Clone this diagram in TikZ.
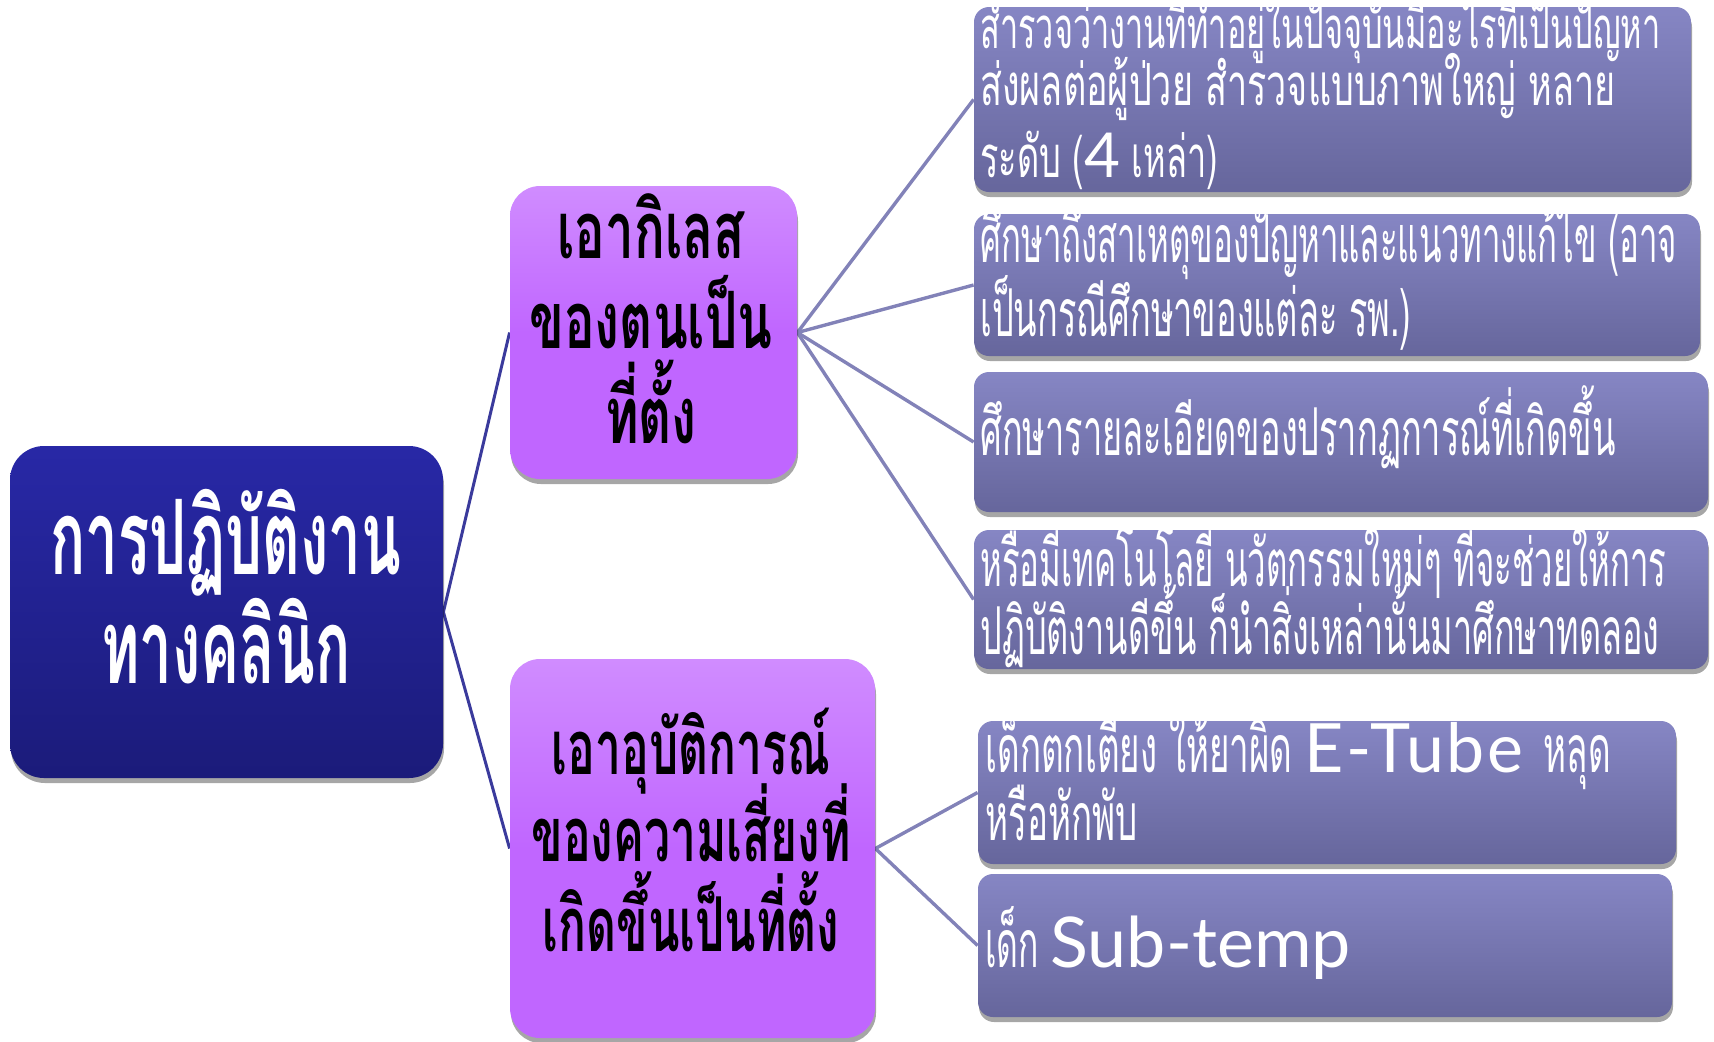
\documentclass[tikz,border=0pt]{standalone}
\usepackage{fontspec}
\usepackage{graphicx}
\setmainfont{Loma}[Script=Thai]
\newfontfamily\thaiR{Loma}[Script=Thai]
\newfontfamily\latin{Lato}
\usetikzlibrary{shadows,backgrounds}
\definecolor{rootTop}{HTML}{2828A6}
\definecolor{rootBot}{HTML}{1B1B7A}
\definecolor{midFill}{HTML}{C066FF}
\definecolor{midTop}{HTML}{D08CFF}
\definecolor{rTop}{HTML}{8686C4}
\definecolor{rBot}{HTML}{66669C}
\definecolor{rootLine}{HTML}{3A3A9C}
\definecolor{midLine}{HTML}{8282B8}
\newcommand{\sqz}[2]{\scalebox{#1}[1]{#2}}
\newcommand{\sqzv}[3]{\scalebox{#1}[#2]{#3}}
\tikzset{
  boxshadow/.style={drop shadow={shadow xshift=0.5pt, shadow yshift=-2.5pt, opacity=0.35, fill=black}},
  rootbox/.style={rounded corners=17pt, top color=rootTop, bottom color=rootBot, boxshadow, inner sep=0pt},
  midbox/.style={rounded corners=15pt, top color=midTop, bottom color=midFill, middle color=midFill, boxshadow, inner sep=0pt},
  rightbox/.style={rounded corners=7.5pt, top color=rTop, bottom color=rBot, boxshadow, inner sep=0pt},
  roottext/.style={anchor=base, text=white, inner sep=0pt, font=\thaiR\bfseries\fontsize{52}{52}\selectfont},
  midtext/.style={anchor=base, text=black, inner sep=0pt, font=\thaiR\bfseries\fontsize{46}{46}\selectfont},
  midtextb/.style={anchor=base, text=black, inner sep=0pt, font=\thaiR\bfseries\fontsize{44}{44}\selectfont},
  rtext/.style={anchor=base west, text=white, inner sep=0pt, font=\thaiR\fontsize{33}{33}\selectfont},
  rootline/.style={draw=rootLine, line width=1.5pt},
  midline/.style={draw=midLine, line width=1.7pt},
}
\begin{document}
\begin{tikzpicture}[x=0.5pt,y=-0.5pt]
\useasboundingbox (0,0) rectangle (1714,1041);
% boxes
\node[rootbox, minimum width=216.5pt, minimum height=166pt] (root) at (226.5,612) {};
\node[midbox, minimum width=143.5pt, minimum height=146.5pt] (m1) at (653.5,332.5) {};
\node[midbox, minimum width=182.5pt, minimum height=189.5pt] (m2) at (692.5,848.5) {};
\node[rightbox, minimum width=358.5pt, minimum height=92.5pt] (r1) at (1332.5,99.5) {};
\node[rightbox, minimum width=363pt, minimum height=71pt] (r2) at (1337,285) {};
\node[rightbox, minimum width=367pt, minimum height=70pt] (r3) at (1341,442) {};
\node[rightbox, minimum width=367pt, minimum height=69.5pt] (r4) at (1341,599.5) {};
\node[rightbox, minimum width=349pt, minimum height=71.5pt] (r5) at (1327,792.5) {};
\node[rightbox, minimum width=347pt, minimum height=71.5pt] (r6) at (1325,945.5) {};
% texts
\node[roottext] (roott1) at (226,574) {\sqz{0.56}{การปฏิบัติงาน}};
\node[roottext] (roott2) at (226,683) {\sqz{0.56}{ทางคลินิก}};
\node[midtext] (m1t1) at (651,258) {\sqzv{0.555}{0.86}{เอากิเลส}};
\node[midtext] (m1t2) at (651,348) {\sqzv{0.555}{0.86}{ของตนเป็น}};
\node[midtext] (m1t3) at (651,443) {\sqzv{0.555}{0.86}{ที่ตั้ง}};
\node[midtextb] (m2t1) at (691,774) {\sqzv{0.525}{0.86}{เอาอุบัติการณ์}};
\node[midtextb] (m2t2) at (691,861) {\sqzv{0.525}{0.86}{ของความเสี่ยงที่}};
\node[midtextb] (m2t3) at (691,951) {\sqzv{0.525}{0.86}{เกิดขึ้นเป็นที่ตั้ง}};
\node[rtext] (r1t1) at (980,48) {\sqzv{0.492}{0.88}{สำรวจว่างานที่ทำอยู่ในปัจจุบันมีอะไรที่เป็นปัญหา}};
\node[rtext] (r1t2) at (980,105) {\sqzv{0.545}{0.88}{ส่งผลต่อผู้ป่วย สำรวจแบบภาพใหญ่ หลาย}};
\node[rtext] (r1t3) at (980,177) {\sqzv{0.52}{0.88}{ระดับ (}{\latin\fontsize{31}{31}\selectfont 4}\sqzv{0.52}{0.88}{ เหล่า)}};
\node[rtext] (r2t1) at (980,262) {\sqz{0.50}{ศึกษาถึงสาเหตุของปัญหาและแนวทางแก้ไข (อาจ}};
\node[rtext] (r2t2) at (980,336) {\sqz{0.52}{เป็นกรณีศึกษาของแต่ละ รพ.)}};
\node[rtext] (r3t1) at (980,455) {\sqz{0.52}{ศึกษารายละเอียดของปรากฏการณ์ที่เกิดขึ้น}};
\node[rtext] (r4t1) at (980,586) {\sqz{0.50}{หรือมีเทคโนโลยี นวัตกรรมใหม่ๆ ที่จะช่วยให้การ}};
\node[rtext] (r4t2) at (980,654) {\sqz{0.518}{ปฏิบัติงานดีขึ้น ก็นำสิ่งเหล่านั้นมาศึกษาทดลอง}};
\node[rtext] (r5t1) at (985,772) {\sqz{0.53}{เด็กตกเตียง ให้ยาผิด }{\latin\fontsize{34}{34}\selectfont\addfontfeature{LetterSpace=4} E-Tube }\sqz{0.53}{หลุด}};
\node[rtext] (r5t2) at (985,840) {\sqz{0.53}{หรือหักพับ}};
\node[rtext] (r6t1) at (985,967) {\sqz{0.51}{เด็ก }{\latin\fontsize{35}{35}\selectfont Sub-temp}};
% connectors
\begin{scope}[on background layer]
  \draw[rootline] (root.east) -- (m1.west);
  \draw[rootline] (root.east) -- (m2.west);
  \draw[midline] (m1.east) -- (r1.west);
  \draw[midline] (m1.east) -- (r2.west);
  \draw[midline] (m1.east) -- (r3.west);
  \draw[midline] (m1.east) -- (r4.west);
  \draw[midline] (m2.east) -- (r5.west);
  \draw[midline] (m2.east) -- (r6.west);
\end{scope}
\end{tikzpicture}
\end{document}
